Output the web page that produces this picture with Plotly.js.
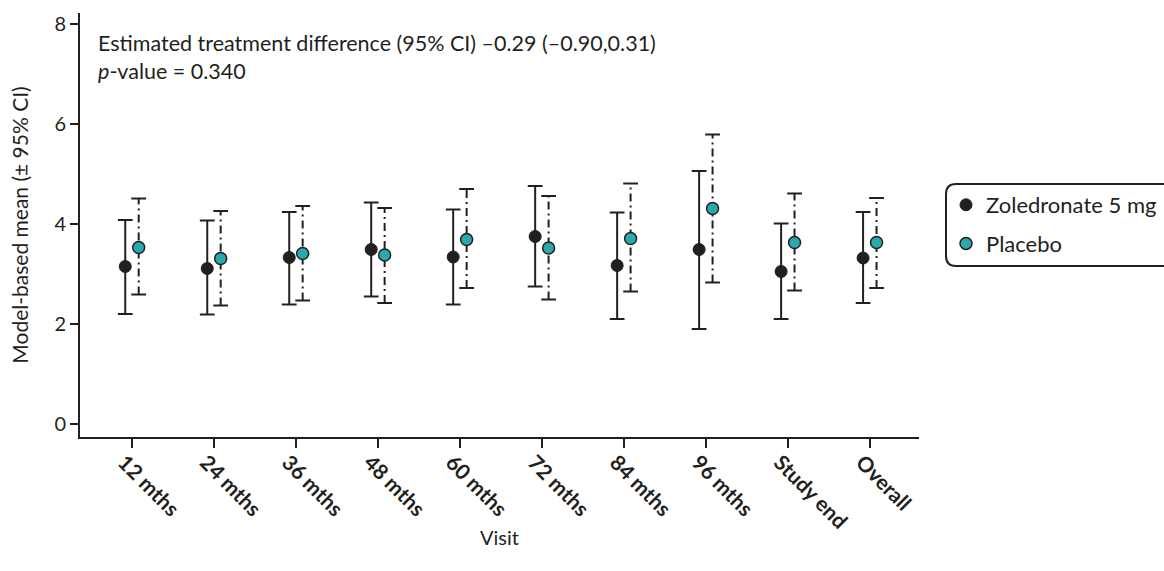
<!DOCTYPE html>
<html>
<head>
<meta charset="utf-8">
<script src="https://cdn.plot.ly/plotly-3.0.1.min.js"></script>
<style>html,body{margin:0;padding:0;background:#fff;}#chart{width:1164px;height:571px;}</style>
</head>
<body>
<div id="chart"></div>
<script>
// ---- data ----
var visits = ["12 mths","24 mths","36 mths","48 mths","60 mths","72 mths","84 mths","96 mths","Study end","Overall"];
var zolMean  = [3.15, 3.11, 3.33, 3.49, 3.34, 3.75, 3.17, 3.49, 3.05, 3.32];
var zolLower = [2.20, 2.19, 2.39, 2.55, 2.39, 2.75, 2.10, 1.90, 2.10, 2.42];
var zolUpper = [4.08, 4.07, 4.24, 4.43, 4.29, 4.76, 4.23, 5.06, 4.01, 4.24];
var plaMean  = [3.53, 3.31, 3.41, 3.38, 3.69, 3.52, 3.71, 4.31, 3.63, 3.63];
var plaLower = [2.59, 2.37, 2.47, 2.42, 2.72, 2.49, 2.65, 2.83, 2.67, 2.72];
var plaUpper = [4.51, 4.26, 4.36, 4.32, 4.70, 4.56, 4.81, 5.79, 4.61, 4.52];
var yTicks = [0, 2, 4, 6, 8];

// ---- styling ----
var INK = "#231f20";
var TEAL = "#29a8ad";
var FONT = "Lato, 'Open Sans', sans-serif";
var OFF = 0.082;   // horizontal offset of each group from the category centre
var CAP = 0.09;    // half width of whisker caps

var idx = visits.map(function(_, i){ return i; });

function whiskers(offset, lo, hi){
  var x = [], y = [];
  idx.forEach(function(i){
    x.push(i + offset, i + offset, null);
    y.push(lo[i], hi[i], null);
  });
  return {x:x, y:y};
}
function caps(offset, lo, hi){
  var x = [], y = [];
  idx.forEach(function(i){
    var c = i + offset;
    x.push(c - CAP, c + CAP, null, c - CAP, c + CAP, null);
    y.push(lo[i], lo[i], null, hi[i], hi[i], null);
  });
  return {x:x, y:y};
}

var zw = whiskers(-OFF, zolLower, zolUpper);
var zc = caps(-OFF, zolLower, zolUpper);
var pw = whiskers(OFF, plaLower, plaUpper);
var pc = caps(OFF, plaLower, plaUpper);

var traces = [
  {type:"scatter", mode:"lines", x:zw.x, y:zw.y, line:{color:INK, width:2}, showlegend:false, hoverinfo:"skip", connectgaps:false},
  {type:"scatter", mode:"lines", x:zc.x, y:zc.y, line:{color:INK, width:2}, showlegend:false, hoverinfo:"skip", connectgaps:false},
  {type:"scatter", mode:"lines", x:pw.x, y:pw.y, line:{color:INK, width:2, dash:"8px,4px,2px,4px"}, showlegend:false, hoverinfo:"skip", connectgaps:false},
  {type:"scatter", mode:"lines", x:pc.x, y:pc.y, line:{color:INK, width:2}, showlegend:false, hoverinfo:"skip", connectgaps:false},
  {type:"scatter", mode:"markers", name:"Zoledronate 5 mg", legendgroup:"a",
   x:idx.map(function(i){return i - OFF;}), y:zolMean,
   marker:{color:INK, size:12, line:{color:INK, width:1}}},
  {type:"scatter", mode:"markers", name:"Placebo", legendgroup:"b",
   x:idx.map(function(i){return i + OFF;}), y:plaMean,
   marker:{color:TEAL, size:12, line:{color:INK, width:1.5}}}
];

// plot area in pixels: x 80..919, y 13..437
var L = 80, R = 919, T = 13, B = 437, W = 1164, H = 571;
function px(x){ return (x - L) / (R - L); }
function py(y){ return (B - y) / (B - T); }
function roundRect(x0, y0, x1, y1, r){
  return "M" + px(x0 + r) + "," + py(y0) +
    " L" + px(x1 - r) + "," + py(y0) +
    " Q" + px(x1) + "," + py(y0) + " " + px(x1) + "," + py(y0 + r) +
    " L" + px(x1) + "," + py(y1 - r) +
    " Q" + px(x1) + "," + py(y1) + " " + px(x1 - r) + "," + py(y1) +
    " L" + px(x0 + r) + "," + py(y1) +
    " Q" + px(x0) + "," + py(y1) + " " + px(x0) + "," + py(y1 - r) +
    " L" + px(x0) + "," + py(y0 + r) +
    " Q" + px(x0) + "," + py(y0) + " " + px(x0 + r) + "," + py(y0) + " Z";
}

var layout = {
  width: W, height: H,
  margin: {l: L, r: W - R, t: T, b: H - B, pad: 0, autoexpand: false},
  paper_bgcolor: "#fff", plot_bgcolor: "#fff",
  font: {family: FONT, color: INK, size: 20},
  showlegend: true,
  xaxis: {
    range: [-0.634, 9.6], automargin: false,
    tickmode: "array", tickvals: idx, ticktext: visits,
    tickangle: 45,
    tickfont: {family: FONT, size: 21, color: INK, weight: 700},
    ticklabelshift: -8, ticklabelstandoff: -6,
    ticks: "outside", ticklen: 9, tickwidth: 2, tickcolor: INK,
    showline: true, linecolor: INK, linewidth: 2,
    showgrid: false, zeroline: false
  },
  yaxis: {
    range: [-0.26, 8.22], automargin: false,
    tickmode: "array", tickvals: yTicks,
    tickfont: {family: FONT, size: 20, color: INK},
    ticks: "outside", ticklen: 8, tickwidth: 2, tickcolor: INK,
    showline: true, linecolor: INK, linewidth: 2,
    showgrid: false, zeroline: false,
    title: {text: "Model-based mean (± 95% CI)", font: {family: FONT, size: 21, color: INK}, standoff: 20}
  },
  legend: {
    x: px(946), y: py(184), xanchor: "left", yanchor: "top",
    bgcolor: "rgba(0,0,0,0)", borderwidth: 0,
    font: {family: FONT, size: 22, color: INK},
    tracegroupgap: 7
  },
  shapes: [{
    type: "path", xref: "paper", yref: "paper",
    path: roundRect(946, 184, 1185, 266, 10),
    line: {color: INK, width: 2}, fillcolor: "rgba(0,0,0,0)"
  }],
  annotations: [{
    xref: "paper", yref: "paper", x: px(96), y: py(28),
    xanchor: "left", yanchor: "top", align: "left", showarrow: false,
    text: "Estimated treatment difference (95% CI) –0.29 (–0.90,0.31)<br><i>p</i>-value = 0.340",
    font: {family: FONT, size: 21.5, color: INK}
  }, {
    xref: "paper", yref: "paper", x: 0.5, y: py(537),
    xanchor: "center", yanchor: "middle", showarrow: false,
    text: "Visit",
    font: {family: FONT, size: 20, color: INK}
  }]
};

Plotly.newPlot("chart", traces, layout, {displayModeBar: false, staticPlot: true});
</script>
</body>
</html>
